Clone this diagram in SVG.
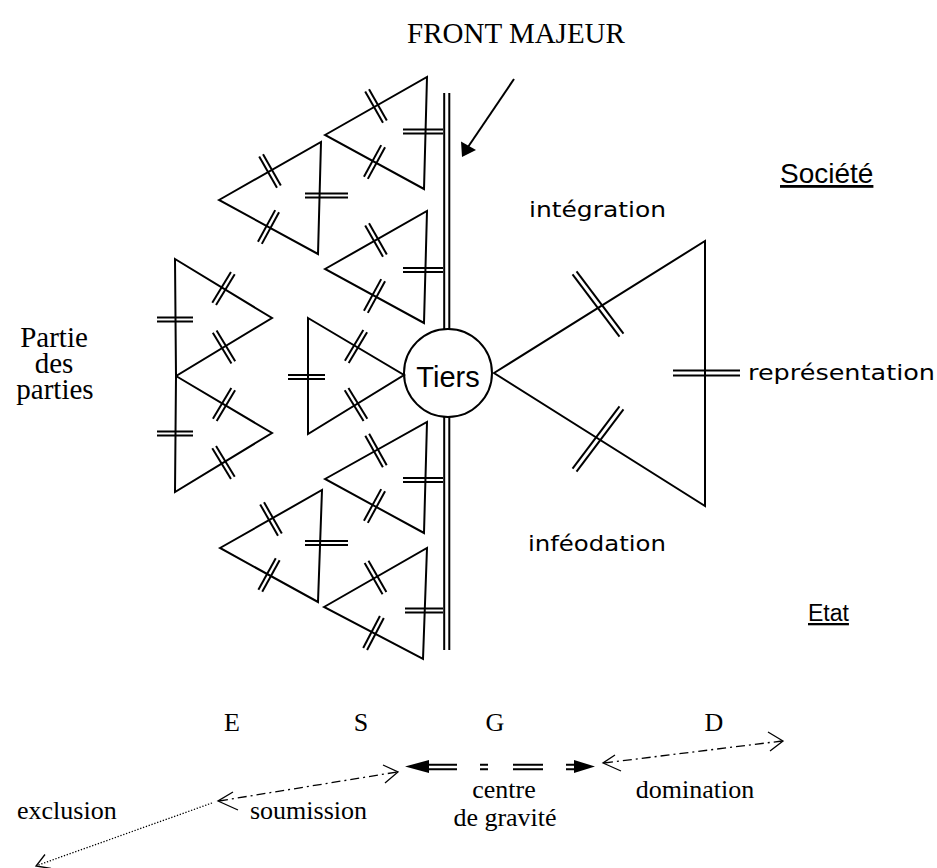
<svg xmlns="http://www.w3.org/2000/svg" width="937" height="868" viewBox="0 0 937 868">
<style>
.s{stroke:#000;stroke-width:2;fill:none}
.d{stroke:#000;stroke-width:1.3;fill:none}
.f{fill:#000;stroke:none}
.t{font-family:"Liberation Serif","Times New Roman",serif;font-size:26px;fill:#000}
.tb{font-family:"Liberation Serif","Times New Roman",serif;font-size:29px;fill:#000}
.c{font-family:"Comic Sans MS","DejaVu Sans",sans-serif;font-size:21px;fill:#000}
.a{font-family:"Liberation Sans",Arial,sans-serif;fill:#000}
</style>
<defs>
<g id="tk" class="s"><line x1="-2.2" y1="-18" x2="-2.2" y2="18"/><line x1="2.2" y1="-18" x2="2.2" y2="18"/></g>
<g id="tkL" class="s"><line x1="-2.5" y1="-39" x2="-2.5" y2="39"/><line x1="2.5" y1="-39" x2="2.5" y2="39"/></g>
</defs>
<rect width="937" height="868" fill="#fff"/>

<g id="title"><text class="tb" x="516" y="43" text-anchor="middle">FRONT MAJEUR</text></g>

<g id="tri-a">
<polygon class="s" points="325,135 427,77 424,189"/>
<use href="#tk" transform="translate(376,106) rotate(-29.6)"/>
<use href="#tk" transform="translate(374.5,162) rotate(28.6)"/>
<path class="s" d="M403 129.5H443M403 133.5H443"/>
</g>
<g id="tri-b">
<polygon class="s" points="219,200 321,142 318,254"/>
<use href="#tk" transform="translate(270,171) rotate(-29.6)"/>
<use href="#tk" transform="translate(268.5,227) rotate(28.6)"/>
<path class="s" d="M305 193.5H348M305 197.5H348"/>
</g>
<g id="tri-c">
<polygon class="s" points="325,269 427,211 424,323"/>
<use href="#tk" transform="translate(376,240) rotate(-29.6)"/>
<use href="#tk" transform="translate(374.5,296) rotate(28.6)"/>
<path class="s" d="M403 268H443M403 272H443"/>
</g>
<g id="tri-d">
<polygon class="s" points="308,318 404,375 308,434"/>
<use href="#tk" transform="translate(356,346.5) rotate(30.7)"/>
<use href="#tk" transform="translate(356,404.5) rotate(-31.6)"/>
<path class="s" d="M288 375H325M288 379H325"/>
</g>
<g id="tri-e">
<polygon class="s" points="325,479 427,422 424,533"/>
<use href="#tk" transform="translate(376,450.5) rotate(-29.2)"/>
<use href="#tk" transform="translate(374.5,506) rotate(28.6)"/>
<path class="s" d="M403 478H443M403 482H443"/>
</g>
<g id="tri-f">
<polygon class="s" points="220,548 322,490 318,602"/>
<use href="#tk" transform="translate(271,519) rotate(-29.6)"/>
<use href="#tk" transform="translate(269,575) rotate(28.9)"/>
<path class="s" d="M305 541H348M305 545H348"/>
</g>
<g id="tri-g">
<polygon class="s" points="324,607 427,548 423,659"/>
<use href="#tk" transform="translate(375.5,577.5) rotate(-29.8)"/>
<use href="#tk" transform="translate(373.5,633) rotate(27.7)"/>
<path class="s" d="M405 608.5H443M405 612.5H443"/>
</g>
<g id="tri-l1">
<polygon class="s" points="175,259 272,318 176,376"/>
<use href="#tk" transform="translate(223.5,288.5) rotate(31.3)"/>
<use href="#tk" transform="translate(224,347) rotate(-31.1)"/>
<path class="s" d="M157 317.5H193M157 321.5H193"/>
</g>
<g id="tri-l2">
<polygon class="s" points="176,376 272,433 175,492"/>
<use href="#tk" transform="translate(224,404.5) rotate(30.7)"/>
<use href="#tk" transform="translate(223.5,462.5) rotate(-31.3)"/>
<path class="s" d="M157 431.5H193M157 435.5H193"/>
</g>
<g id="tri-r">
<polygon class="s" points="494,373 705,241 705,506"/>
<use href="#tkL" transform="translate(598,304) rotate(-37)"/>
<use href="#tkL" transform="translate(598,439) rotate(37)"/>
<path class="s" d="M673 370.5H740M673 375.5H740"/>
</g>

<g id="tiers">
<circle class="s" cx="448" cy="373" r="44"/>
<text class="a" x="448" y="387" font-size="29" text-anchor="middle">Tiers</text>
</g>

<g id="connectors">
<path class="s" d="M444.2 93V329.3M449.3 93V329.5M444.2 416.7V650M449.3 416.5V650"/>
<line class="s" x1="514" y1="79" x2="468" y2="147"/>
<polygon class="f" points="462,157 461,141.5 476,150"/>
<path class="d" d="M212 803L37 865.5" stroke-dasharray="1.3 1.7"/>
<polyline class="d" points="45,854.5 36,866 51,868.5"/>
<path class="d" d="M219 801L397 772" stroke-dasharray="9 4 2 4"/>
<polyline class="d" points="233,792 218,801 238,810"/>
<polyline class="d" points="383,765 398,772 385,783"/>
<path class="d" d="M604 763L782 741" stroke-dasharray="9 4 2 4"/>
<polyline class="d" points="615,755 603,763 621,771"/>
<polyline class="d" points="768,732 783,741 770,751"/>
<polygon class="f" points="405,766.5 429,760 429,773"/>
<path class="s" d="M425 764.8H457M425 769.2H457M480 764.8H488M480 769.2H488M513 764.8H543M513 769.2H543M566 764.8H578M566 769.2H578"/>
<polygon class="f" points="595,766.5 574,760 574,773"/>
</g>

<g id="labels">
<text class="c" x="529" y="217" textLength="137" lengthAdjust="spacingAndGlyphs">intégration</text>
<text class="c" x="528" y="551" textLength="138" lengthAdjust="spacingAndGlyphs">inféodation</text>
<text class="c" x="748" y="380" textLength="187" lengthAdjust="spacingAndGlyphs">représentation</text>
<text class="a" x="780" y="183" font-size="28" text-decoration="underline">Société</text>
<text class="a" x="808" y="621" font-size="23" text-decoration="underline">Etat</text>
<text class="tb" text-anchor="middle"><tspan x="54" y="347">Partie</tspan><tspan x="54" y="373">des</tspan><tspan x="55" y="399">parties</tspan></text>
<text class="t" x="232" y="731" text-anchor="middle">E</text>
<text class="t" x="361" y="731" text-anchor="middle">S</text>
<text class="t" x="495" y="731" text-anchor="middle">G</text>
<text class="t" x="714" y="731" text-anchor="middle">D</text>
<text class="t" x="17" y="819">exclusion</text>
<text class="t" x="250" y="819">soumission</text>
<text class="t" x="504" y="798" text-anchor="middle">centre</text>
<text class="t" x="505" y="826" text-anchor="middle">de gravité</text>
<text class="t" x="695" y="798" text-anchor="middle">domination</text>
</g>
</svg>
